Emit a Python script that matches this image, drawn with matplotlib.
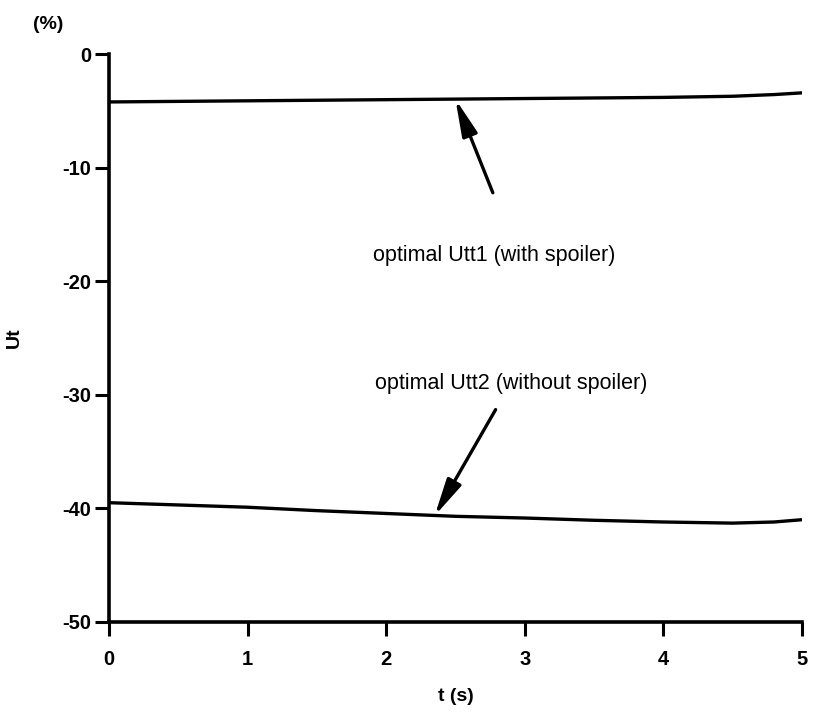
import matplotlib
matplotlib.use("Agg")
import matplotlib.pyplot as plt
import numpy as np

plt.rcParams['font.family'] = ['Liberation Sans', 'DejaVu Sans']

# Time axis (s)
t = [0.0, 0.5, 1.0, 1.5, 2.0, 2.5, 3.0, 3.5, 4.0, 4.5, 4.8, 5.0]
# optimal Utt1 with spoiler (%)
ut1 = [-4.2, -4.15, -4.1, -4.05, -4.0, -3.95, -3.9, -3.85, -3.8, -3.7, -3.55, -3.4]
# optimal Utt2 without spoiler (%)
ut2 = [-39.5, -39.7, -39.9, -40.2, -40.45, -40.7, -40.85, -41.05, -41.2, -41.3, -41.2, -41.0]

xticks = [0, 1, 2, 3, 4, 5]
yticks = [0, -10, -20, -30, -40, -50]

fig = plt.figure(figsize=(8.14, 7.14), dpi=100)
ax = fig.add_axes([0.134, 0.129, 0.851, 0.795])

ax.plot(t, ut1, color='black', lw=2.4, solid_capstyle='round')
ax.plot(t, ut2, color='black', lw=2.4, solid_capstyle='round')

ax.set_xlim(0, 5)
ax.set_ylim(-50, 0)
ax.set_xticks(xticks)
ax.set_yticks(yticks)
ax.set_xticklabels([str(v) for v in xticks], fontsize=14.5, fontweight='bold')
ax.set_yticklabels([str(v) for v in yticks], fontsize=14.5, fontweight='bold')
ax.tick_params(axis='y', direction='out', length=10, width=2.2, pad=3)
ax.tick_params(axis='x', direction='out', length=10, width=2.2, pad=10)

for side in ['top', 'right']:
    ax.spines[side].set_visible(False)
for side in ['left', 'bottom']:
    ax.spines[side].set_linewidth(2.6)
ax.spines['left'].set_bounds(-50, 0)
ax.spines['bottom'].set_bounds(0, 5)

ax.set_xlabel('t (s)', fontsize=14, fontweight='bold', labelpad=14)
ax.set_ylabel('Ut', fontsize=14, fontweight='bold', labelpad=28)
fig.text(0.04, 0.965, '(%)', fontsize=14, fontweight='bold', ha='left', va='center')

arrow = dict(arrowstyle='-|>,head_length=0.8,head_width=0.17', color='black',
             lw=2.4, mutation_scale=28, shrinkA=0, shrinkB=0)
ax.annotate('', xy=(2.5, -3.95), xytext=(2.77, -12.2), arrowprops=arrow)
ax.annotate('', xy=(2.35, -40.65), xytext=(2.79, -31.3), arrowprops=arrow)

ax.text(2.78, -17.7, 'optimal Utt1 (with spoiler)', fontsize=15.5,
        ha='center', va='center')
ax.text(2.90, -29.0, 'optimal Utt2 (without spoiler)', fontsize=15.5,
        ha='center', va='center')

fig.savefig('out.png', dpi=100)
